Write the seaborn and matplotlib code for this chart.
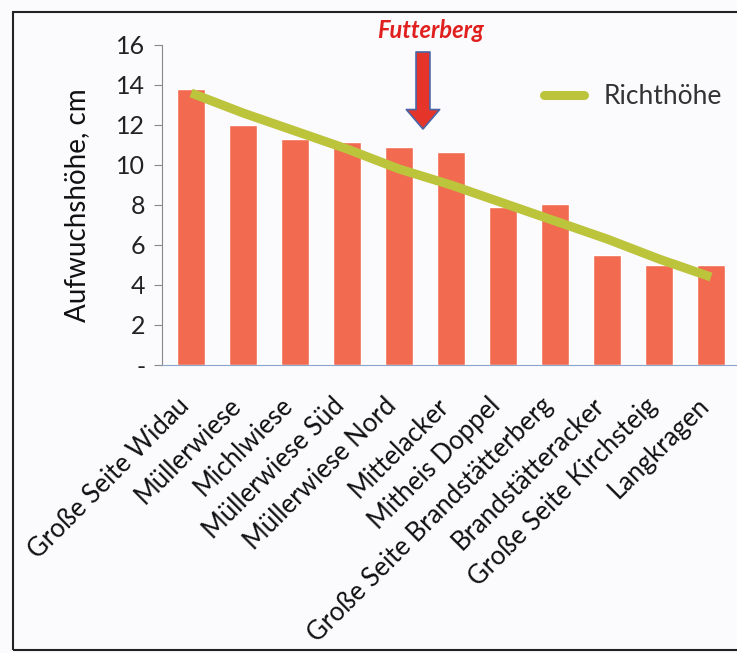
import matplotlib
matplotlib.use("Agg")
import matplotlib.pyplot as plt
import matplotlib.transforms as mtransforms
import seaborn as sns
import pandas as pd
from matplotlib.patches import Rectangle
from matplotlib.lines import Line2D

# Flächen und gemessene Aufwuchshöhe (cm)
flaechen = ["Große Seite Widau", "Müllerwiese", "Michlwiese", "Müllerwiese Süd",
            "Müllerwiese Nord", "Mittelacker", "Mitheis Doppel",
            "Große Seite Brandstätterberg", "Brandstätteracker",
            "Große Seite Kirchsteig", "Langkragen"]
aufwuchs = [13.8, 12.0, 11.3, 11.15, 10.9, 10.65, 7.9, 8.05, 5.5, 5.0, 5.0]
richthoehe = [13.6, 12.6, 11.7, 10.8, 9.8, 9.0, 8.1, 7.2, 6.3, 5.3, 4.4]
yticks = [0, 2, 4, 6, 8, 10, 12, 14, 16]
ytick_labels = ["-", "2", "4", "6", "8", "10", "12", "14", "16"]

df = pd.DataFrame({"flaeche": flaechen, "aufwuchs": aufwuchs, "richt": richthoehe})

sns.set_style("white")
plt.rcParams["font.family"] = ["Lato", "DejaVu Sans"]

fig = plt.figure(figsize=(7.37, 6.53), dpi=100, facecolor="#fbfafc")
ax = fig.add_axes([162 / 737, 1 - 365 / 653, (737 - 162) / 737, (365 - 45) / 653])
ax.set_facecolor("#fbfafc")

sns.barplot(data=df, x="flaeche", y="aufwuchs", color="#f26a50", width=0.54,
            saturation=1, ax=ax)
ax.plot(range(len(flaechen)), df["richt"], color="#bcc43c", lw=6.5,
        solid_capstyle="butt", zorder=5)

ax.set_xlim(-0.56, 10.5)
ax.set_ylim(0, 16)
ax.set_yticks(yticks)
ax.set_yticklabels(ytick_labels, fontsize=18, color="#222222")
ax.tick_params(axis="y", direction="out", length=6, color="#888888", left=True, pad=6)
ax.tick_params(axis="x", length=0, pad=20)
ax.set_xticks(range(len(flaechen)))
ax.set_xticklabels(flaechen, rotation=45, ha="right", rotation_mode="anchor",
                   fontsize=18.5, color="#111111")
# Beschriftung etwas nach links, wie im Original
shift = mtransforms.ScaledTranslation(-0.15, 0, fig.dpi_scale_trans)
for lab in ax.get_xticklabels():
    lab.set_transform(lab.get_transform() + shift)
ax.set_xlabel("")
ax.set_ylabel("Aufwuchshöhe, cm", fontsize=20, color="#111111", labelpad=19)

for side in ["top", "right"]:
    ax.spines[side].set_visible(False)
ax.spines["left"].set_color("#888888")
ax.spines["bottom"].set_color("#8aa6cc")

# Legende
leg_handle = Line2D([], [], color="#bcc43c", lw=6.5, solid_capstyle="round")
ax.legend([leg_handle], ["Richthöhe"], loc="center right",
          bbox_to_anchor=((722 - 162) / 575, (365 - 97) / 320),
          frameon=False, fontsize=19, handlelength=1.5, handletextpad=0.75,
          borderpad=0, borderaxespad=0, labelcolor="#333333")

# Pfeil Futterberg
ax.annotate("", xy=(4.46, 11.8), xytext=(4.46, 15.65),
            arrowprops=dict(arrowstyle="simple,head_length=1.4,head_width=2.4,tail_width=1.0",
                            fc="#e5352a", ec="#4a64a8", lw=1.2, mutation_scale=10,
                            shrinkA=0, shrinkB=0), zorder=6)
ax.text(4.6, 16.75, "Futterberg", color="#e0201e", fontsize=17, fontweight="bold",
        fontstyle="italic", ha="center", va="center", clip_on=False)

# Rahmen
fig.patches.append(Rectangle((13 / 737, 1 - 650 / 653), 1.2, (650 - 12) / 653,
                             transform=fig.transFigure, fill=False, ec="#222222", lw=1.5))

fig.savefig("out.png", dpi=100, facecolor=fig.get_facecolor())
